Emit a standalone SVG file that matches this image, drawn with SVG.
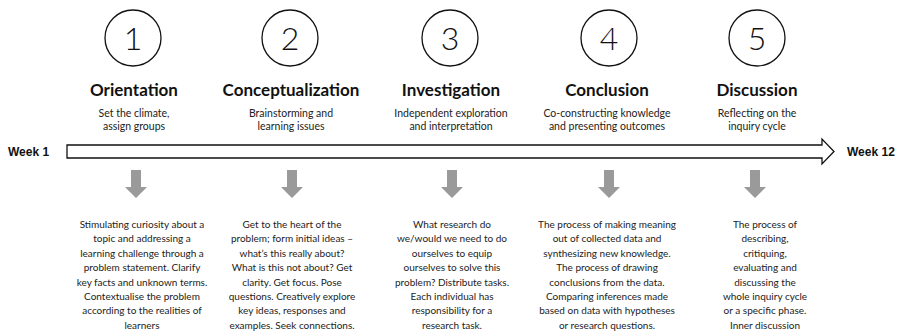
<svg xmlns="http://www.w3.org/2000/svg" width="902" height="333" viewBox="0 0 902 333">
<style>
.circ{fill:none;stroke:#111;stroke-width:1.3}
.num{font-family:Lato,"Open Sans",sans-serif;font-weight:300;font-size:32px;fill:#111;text-anchor:middle}
.title{font-family:Lato,"Open Sans",sans-serif;font-weight:bold;font-size:17px;fill:#111;text-anchor:middle}
.sub{font-family:Lato,"Open Sans",sans-serif;font-size:10.5px;fill:#222;text-anchor:middle}
.body{font-family:Lato,"Open Sans",sans-serif;font-size:10px;fill:#222;text-anchor:middle}
.week{font-family:"Liberation Sans",Arial,sans-serif;font-weight:bold;font-size:12px;fill:#111}
.garrow{fill:#9a9a9a}
</style>
<defs>
<path id="down" class="garrow" d="M-5,0 H5 V17 H11 L0,28 L-11,17 H-5 Z"/>
</defs>
<g id="timeline">
<polygon points="67,145 822,145 822,139 834,151.5 822,164 822,158 67,158" fill="#fff" stroke="#111" stroke-width="1.3"/>
<text class="week" x="8" y="156">Week 1</text>
<text class="week" x="847" y="156">Week 12</text>
</g>
<g id="connectors">
<use href="#down" x="136" y="170"/>
<use href="#down" x="292" y="170"/>
<use href="#down" x="452" y="170"/>
<use href="#down" x="609" y="170"/>
<use href="#down" x="755" y="170"/>
</g>
<g id="phase1">
<circle class="circ" cx="133" cy="38" r="28"/>
<text class="num" x="133" y="50">1</text>
<text class="title" x="134" y="96">Orientation</text>
<text class="sub" x="134" y="117">Set the climate,</text>
<text class="sub" x="134" y="130">assign groups</text>
<text class="body" x="142" y="228">Stimulating curiosity about a</text>
<text class="body" x="142" y="242.4">topic and addressing a</text>
<text class="body" x="142" y="256.8">learning challenge through a</text>
<text class="body" x="142" y="271.2">problem statement. Clarify</text>
<text class="body" x="142" y="285.6">key facts and unknown terms.</text>
<text class="body" x="142" y="300">Contextualise the problem</text>
<text class="body" x="142" y="314.4">according to the realities of</text>
<text class="body" x="142" y="328.8">learners</text>
</g>
<g id="phase2">
<circle class="circ" cx="290" cy="38" r="28"/>
<text class="num" x="290" y="50">2</text>
<text class="title" x="291" y="96">Conceptualization</text>
<text class="sub" x="291" y="117">Brainstorming and</text>
<text class="sub" x="291" y="130">learning issues</text>
<text class="body" x="292" y="228">Get to the heart of the</text>
<text class="body" x="292" y="242.4">problem; form initial ideas –</text>
<text class="body" x="292" y="256.8">what’s this really about?</text>
<text class="body" x="292" y="271.2">What is this not about? Get</text>
<text class="body" x="292" y="285.6">clarity. Get focus. Pose</text>
<text class="body" x="292" y="300">questions. Creatively explore</text>
<text class="body" x="292" y="314.4">key ideas, responses and</text>
<text class="body" x="292" y="328.8">examples. Seek connections.</text>
</g>
<g id="phase3">
<circle class="circ" cx="450" cy="38" r="28"/>
<text class="num" x="450" y="50">3</text>
<text class="title" x="451" y="96">Investigation</text>
<text class="sub" x="451" y="117">Independent exploration</text>
<text class="sub" x="451" y="130">and interpretation</text>
<text class="body" x="452" y="228">What research do</text>
<text class="body" x="452" y="242.4">we/would we need to do</text>
<text class="body" x="452" y="256.8">ourselves to equip</text>
<text class="body" x="452" y="271.2">ourselves to solve this</text>
<text class="body" x="452" y="285.6">problem? Distribute tasks.</text>
<text class="body" x="452" y="300">Each individual has</text>
<text class="body" x="452" y="314.4">responsibility for a</text>
<text class="body" x="452" y="328.8">research task.</text>
</g>
<g id="phase4">
<circle class="circ" cx="609" cy="38" r="28"/>
<text class="num" x="609" y="50">4</text>
<text class="title" x="607" y="96">Conclusion</text>
<text class="sub" x="607" y="117">Co-constructing knowledge</text>
<text class="sub" x="607" y="130">and presenting outcomes</text>
<text class="body" x="607" y="228">The process of making meaning</text>
<text class="body" x="607" y="242.4">out of collected data and</text>
<text class="body" x="607" y="256.8">synthesizing new knowledge.</text>
<text class="body" x="607" y="271.2">The process of drawing</text>
<text class="body" x="607" y="285.6">conclusions from the data.</text>
<text class="body" x="607" y="300">Comparing inferences made</text>
<text class="body" x="607" y="314.4">based on data with hypotheses</text>
<text class="body" x="607" y="328.8">or research questions.</text>
</g>
<g id="phase5">
<circle class="circ" cx="757" cy="38" r="28"/>
<text class="num" x="757" y="50">5</text>
<text class="title" x="757" y="96">Discussion</text>
<text class="sub" x="757" y="117">Reflecting on the</text>
<text class="sub" x="757" y="130">inquiry cycle</text>
<text class="body" x="765" y="228">The process of</text>
<text class="body" x="765" y="242.4">describing,</text>
<text class="body" x="765" y="256.8">critiquing,</text>
<text class="body" x="765" y="271.2">evaluating and</text>
<text class="body" x="765" y="285.6">discussing the</text>
<text class="body" x="765" y="300">whole inquiry cycle</text>
<text class="body" x="765" y="314.4">or a specific phase.</text>
<text class="body" x="765" y="328.8">Inner discussion</text>
</g>
</svg>
